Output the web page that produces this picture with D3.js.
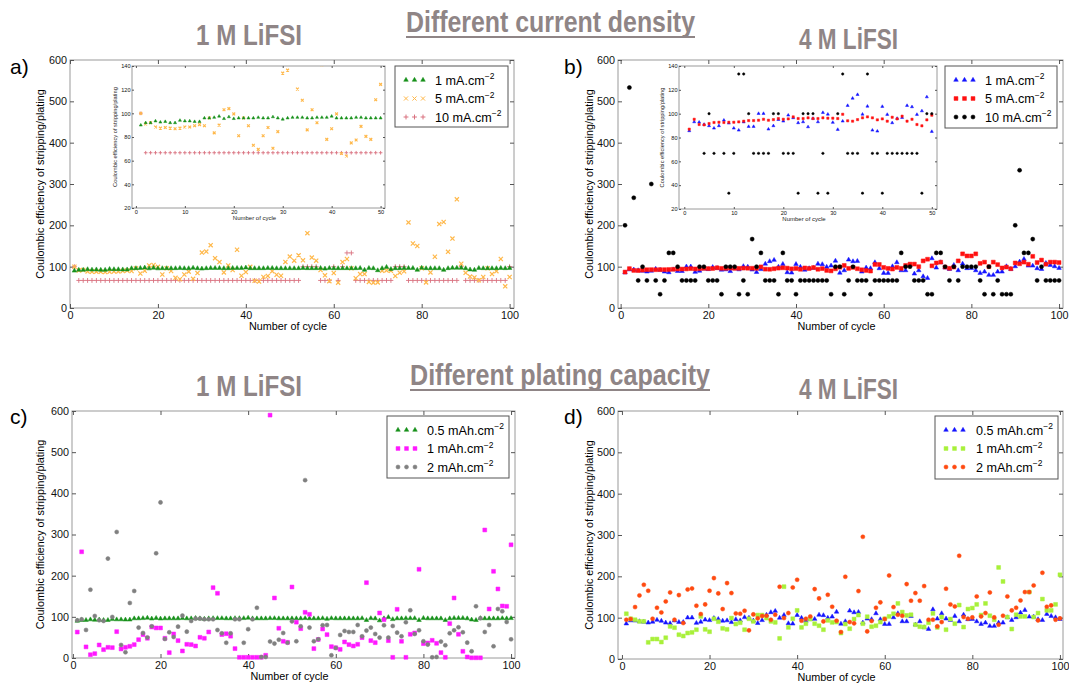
<!DOCTYPE html>
<html><head><meta charset="utf-8">
<script src="https://cdn.jsdelivr.net/npm/d3@7"></script>
<style>
body{margin:0;background:#fff;}
svg{display:block;font-family:"Liberation Sans",Arial,Helvetica,sans-serif;}
</style>
</head><body>
<svg id="fig" width="1069" height="684"></svg>
<script>
// Cycle numbers shared by every series
const cycles = d3.range(1, 101);

// a) 1 M LiFSI, current density
const a_1mA = [90,92,92,93.5,92.5,93,92,92,94,93.5,93.5,93,93,96,96,96.5,97.5,95.5,97,95.5,96,96,96,96,96.5,96,96,97,96,95,96,96.5,96.5,96.5,96,96,96.5,96.5,96.5,97.5,96,96,96,96,96.5,96.5,96,96,96,96,
  96,96,96.5,96,96,96,96.5,95,96.5,96,96,96,96,96,96,96.5,92,96.5,96,91,96,99,94,96,96,96.5,96.5,96.5,92,97,96,96,96,96,92,96,97,97,97,96,93,92,96.5,96,96,96,96,96.5,96,96.5];
const a_5mA = [100,91,92,88.5,87.5,88,87.5,87,87.5,88.5,88.5,89.5,90.5,89.5,96,83.5,90,103,104,99.5,81,96,89.5,73,69.5,81,88,70.5,84.5,134,136.5,152,120.5,111,86,103,92,141,78,87,99.5,66,64,75,77.5,89,80.5,78,111.5,124.5,
  114.5,127.4,115.3,181,122,114.5,92,79,65,84.7,61.3,111,118.5,96,72,82,82,63,61.3,62,90,91,90,77.4,85.5,88.7,207,156,150,96,62,86,124,203,208,136,168,263,107,85,76,74,67,75,96,82,89,118.5,52.5,75];
const a_10mA = [100,66.7,66.7,66.7,66.7,66.7,66.7,66.7,66.7,66.7,66.7,66.7,66.7,66.7,66.7,66.7,66.7,66.7,66.7,66.7,66.7,66.7,66.7,66.7,66.7,66.7,66.7,66.7,66.7,66.7,66.7,66.7,66.7,66.7,66.7,66.7,66.7,66.7,66.7,66.7,66.7,66.7,66.7,66.7,66.7,66.7,66.7,66.7,66.7,66.7,
  66.7,66.7,100,100,100,100,66.7,66.7,66.7,100,66.7,100,133.3,133.3,66.7,66.7,66.7,66.7,66.7,66.7,66.7,66.7,66.7,100,100,100,66.7,66.7,66.7,66.7,66.7,66.7,66.7,66.7,66.7,66.7,66.7,66.7,100,66.7,66.7,66.7,66.7,66.7,66.7,66.7,66.7,66.7,66.7,100];

// b) 4 M LiFSI, current density
const b_1mA = [85.6,93.1,92.8,91,89.8,87.8,89.8,94.5,92,87.8,86.1,93,89.2,89.2,100.1,100.1,87,89.8,95,93.7,98.7,96.5,92.3,93.1,88.9,96,93.1,100.9,99.5,92.6,86.7,93.7,106.8,112.9,116,99.5,106.2,86.1,85.3,106,99.3,92.3,96,96.7,106.8,105.7,99.3,102.3,114,85,
  90.9,116.7,112.7,113.5,87.7,97.4,96,110.3,95.8,84.5,84.5,100.6,110.3,90.9,90.9,103.8,82.9,90.9,76.4,72.4,119.9,97.4,110.3,97.4,94.2,103.8,90.9,107,96,96.6,90.9,84.5,87.7,79.7,79.7,87.7,87.7,100.6,94.2,100.6,111.9,118.3,102.2,102.2,95.8,94,108.7,103.8,100.6,96.6];
const b_5mA = [87,95.3,90.9,90.6,91.7,92.6,92.8,92.6,92.8,92.8,93.1,93.7,94.2,94.2,94.5,95.3,94.5,95,95.9,95.3,95.6,97.3,95.9,95.9,96.5,95.9,95.9,96.5,96.2,96.2,95.9,99.5,94,93.7,95,96.5,97.3,96.5,94.8,95.6,93.7,97,95.6,97.9,93.7,95.3,90.9,89.8,94.8,98.7,
  103,95.8,98.2,95,92.5,90.9,89.3,105.4,105.4,98.2,95.8,94.2,98.2,95.8,103,106.2,106.2,100,114,118,102,109,111,99,96,99,114,131,126,126,131,108,111,100,111,105,97,99,95,109,107,111,106,125,110,116,106,111,111,110];
const b_10mA = [200,533.3,266.7,66.7,100,66.7,300,66.7,33.3,66.7,133.3,133.3,100,66.7,66.7,66.7,66.7,100,100,66.7,66.7,66.7,33.3,100,100,100,33.3,66.7,33.3,166.7,100,133.3,66.7,66.7,66.7,33.3,133.3,66.7,66.7,33.3,66.7,66.7,66.7,66.7,66.7,66.7,66.7,33.3,100,100,
  33.3,66.7,100,66.7,66.7,66.7,33.3,66.7,66.7,66.7,66.7,66.7,66.7,133.3,100,100,66.7,66.7,66.7,33.3,33.3,133.3,133.3,100,66.7,100,66.7,100,100,100,100,66.7,33.3,100,33.3,66.7,33.3,33.3,33.3,200,333.3,133.3,133.3,166.7,66.7,100,66.7,66.7,66.7,66.7];

// c) 1 M LiFSI, plating capacity
const c_05mAh = a_1mA;
const c_1mAh = [63,258,27,8,10.6,31.7,20.3,26,25.2,64,22,26,28.4,32.5,44.6,56.8,47.9,75.4,73,73,48,13,58.4,42.2,17.1,33.3,32.5,29.2,50.3,47.9,63.2,170.9,157.2,57,59,53,22.8,1.7,1.7,1.7,1.7,1.7,1.7,6.6,590,145.8,72.2,40.6,38.1,172.5,
  87,71.3,111,106.2,22.8,45,70.5,56.8,27.6,25,21,39,32.5,29.2,33.3,49.5,183,42.2,37.3,109.4,93.2,42.2,1.7,118.3,40.6,1.7,57.6,60.8,215.5,34.9,36.5,43,35.7,13.1,1.7,83.5,145.8,57.6,16.3,2.5,0.5,0.5,0.5,311,119,210.6,167.7,126.4,125.6,275];
const c_2mAh = [91.6,94,68.1,166,102.1,91.6,90,241.4,99.7,306.2,31.7,13.9,133.7,162.8,73.8,60.8,50,77,254.3,378,46.2,62.4,51,76.2,102.9,64,90,95.6,95.6,94,94,94,68,60,37,60,94,94,37,70,94,122,2.4,2.4,40,35,44.5,60.7,37.2,89,
  40.6,77,432,73.8,40.6,45.4,79.4,80.2,6.6,24.4,56,65.7,63.2,63.2,80.2,52.7,66.5,73.8,58.4,49.5,79.4,49.5,77.8,61.6,52.7,86.7,115.9,58.4,67.3,40.6,32.5,1.7,2.5,39.8,30.9,60,67.3,74.6,62.4,37.3,16.3,125.6,96.4,63.2,80.2,28.4,119.1,113.4,87.5,45.4];

// d) 4 M LiFSI, plating capacity
const d_05mAh = b_1mA;
const d_1mAh = [109.5,97.4,95,91,91,40.3,48.3,48.3,41,51.5,78.9,75.7,58.8,55.6,62.8,64.4,70.9,103,71.7,66,97.4,90.2,74.1,71.7,99,84.6,87.8,70.9,97.4,91,106.3,106.3,99,91,88.6,49.9,175,76.5,97.4,117.6,76.5,85.4,96.6,85.4,80.5,70.9,93.4,88.6,89.4,62.8,
  84.6,73.3,96.6,106.3,85.4,102.3,78.1,80.5,89.4,97.4,103,109.5,134.5,113.6,105.5,107.1,83,78.1,77.3,87.8,110.3,76.5,101.5,70.9,96.6,85.4,130.5,77.3,120.8,123.2,132.1,106.3,134.5,104.7,95,221.5,187.6,101.5,72.5,107.1,103,103,161.9,101.5,111.1,145,117.6,117.6,132.1,203.8];
const d_2mAh = [95,96.6,125.6,153.8,179.6,165.1,97.4,124,112.7,139.3,161.1,95,154.6,87,168.3,170.7,128.9,108.7,132.1,165.1,195.7,158.7,120.8,183.6,159.5,110.3,109.5,116.8,69.3,107.9,98.3,103.9,104.7,95,107.1,174.8,99,111.1,173.1,191.7,92.6,97.4,103,169.1,146.6,91,155.4,126.4,92.6,65.2,
  198.9,89.4,86.2,164.3,295.6,66.8,92,124,137,96.6,202,125.6,107,104.7,181.2,141,159.5,141,176.4,95,95,78.9,89.4,170,132,127.2,249.7,101.5,97.4,100.7,151.4,103,111.1,161,100.7,83,104.7,151.4,117.6,124,141.7,161.9,161.9,178,93.4,208.6,126.4,129.7,95,98.3];

// Tick values and text
const mainYTicks = [0,100,200,300,400,500,600];
const mainXTicks = [0,20,40,60,80,100];
const insetYTicks = [20,40,60,80,100,120,140];
const insetXTicks = [0,10,20,30,40,50];
const yLabel = "Coulombic efficiency of stripping/plating";
const xLabel = "Number of cycle";

const svg = d3.select("#fig");

const TITLE = "#8f8586";
const FRAME = "#9a9a9a";

// marker glyphs
const shapes = {
  tri:   {type: d3.symbolTriangle, fill: true},
  sq:    {type: d3.symbolSquare, fill: true},
  dot:   {type: d3.symbolCircle, fill: true},
  times: {type: d3.symbolTimes, fill: false},
  plus:  {type: d3.symbolPlus, fill: false}
};
const mainSize = {tri: 9, sq: 15, dot: 13, times: 13, plus: 9};
const insetSize = {tri: 4, sq: 5, dot: 4.5, times: 6, plus: 5};

function drawMarks(g, vals, sx, sy, s, sizes, n) {
  const sh = shapes[s.shape];
  const sym = d3.symbol().type(sh.type).size(sizes[s.shape]);
  const data = vals.slice(0, n).map((v, i) => ({x: cycles[i], y: v}));
  g.append("g").selectAll("path").data(data).join("path")
    .attr("transform", d => `translate(${sx(d.x)},${sy(d.y)})`)
    .attr("d", sym)
    .attr("fill", sh.fill ? s.color : "none")
    .attr("stroke", s.color)
    .attr("stroke-width", sh.fill ? 0.5 : (s.shape === "times" ? 1.2 : 0.9));
}

function frameAxes(g, box, sx, sy, xt, yt, fs, tl, opt) {
  // frame
  g.append("rect").attr("x", box.l).attr("y", box.t)
    .attr("width", box.r - box.l).attr("height", box.b - box.t)
    .attr("fill", opt.bg || "none").attr("stroke", FRAME).attr("stroke-width", 1);
  // bottom / top ticks
  g.append("g").attr("transform", `translate(0,${box.b})`)
    .call(d3.axisBottom(sx).tickValues(xt).tickSize(-tl).tickPadding(opt.xpad).tickFormat(d3.format("d")))
    .call(a => { a.select(".domain").remove(); a.selectAll("line").attr("stroke", "#555");
      a.selectAll("text").attr("font-size", fs).attr("fill", "#111"); });
  g.append("g").attr("transform", `translate(0,${box.t})`)
    .call(d3.axisTop(sx).tickValues(xt).tickSize(-tl).tickFormat(""))
    .call(a => { a.select(".domain").remove(); a.selectAll("line").attr("stroke", "#555"); });
  g.append("g").attr("transform", `translate(${box.l},0)`)
    .call(d3.axisLeft(sy).tickValues(yt).tickSize(-tl).tickPadding(opt.ypad).tickFormat(d3.format("d")))
    .call(a => { a.select(".domain").remove(); a.selectAll("line").attr("stroke", "#555");
      a.selectAll("text").attr("font-size", fs).attr("fill", "#111"); });
  g.append("g").attr("transform", `translate(${box.r},0)`)
    .call(d3.axisRight(sy).tickValues(yt).tickSize(-tl).tickFormat(""))
    .call(a => { a.select(".domain").remove(); a.selectAll("line").attr("stroke", "#555"); });
}

function drawPanel(p) {
  const g = svg.append("g");
  const sx = d3.scaleLinear().domain(p.xd).range([p.box.l, p.box.r]);
  const sy = d3.scaleLinear().domain([0, 600]).range([p.box.b, p.box.t]);
  frameAxes(g, p.box, sx, sy, mainXTicks, mainYTicks, 10.8, 4, {xpad: 3, ypad: 3});

  // axis titles
  g.append("text").attr("x", (p.box.l + p.box.r) / 2 - 4).attr("y", p.box.b + 22)
    .attr("text-anchor", "middle").attr("font-size", 10.8).text(xLabel);
  g.append("text").attr("transform", `translate(${p.ylx},${(p.box.t + p.box.b) / 2}) rotate(-90)`)
    .attr("text-anchor", "middle").attr("font-size", 10.8).text(yLabel);

  // panel letter
  g.append("text").attr("x", p.letter[0]).attr("y", p.letter[1]).attr("font-size", 21)
    .text(p.letter[2]);

  // points
  p.order.forEach(k => drawMarks(g, p.series[k].v, sx, sy, p.series[k], mainSize, 100));

  // inset with the first 50 cycles
  if (p.inset) {
    const ib = p.inset;
    const ig = svg.append("g");
    const isx = d3.scaleLinear().domain(ib.xd).range([ib.l, ib.r]);
    const isy = d3.scaleLinear().domain([20, 140]).range([ib.b, ib.t]);
    frameAxes(ig, ib, isx, isy, insetXTicks, insetYTicks, 5.6, 2, {xpad: 2, ypad: 1.5, bg: "#fff"});
    const cid = "clip" + p.letter[2][0];
    ig.append("clipPath").attr("id", cid).append("rect")
      .attr("x", ib.l).attr("y", ib.t).attr("width", ib.r - ib.l).attr("height", ib.b - ib.t);
    const pg = ig.append("g").attr("clip-path", `url(#${cid})`);
    p.order.forEach(k => drawMarks(pg, p.series[k].v, isx, isy, p.series[k], insetSize, 50));
    ig.append("text").attr("x", (ib.l + ib.r) / 2 - 4).attr("y", ib.b + 12)
      .attr("text-anchor", "middle").attr("font-size", 6).attr("fill", "#222").text(xLabel);
    ig.append("text").attr("transform", `translate(${ib.l - 15},${(ib.t + ib.b) / 2}) rotate(-90)`)
      .attr("text-anchor", "middle").attr("font-size", 5.7).attr("fill", "#222").text(yLabel);
  }

  // legend
  const L = p.legend;
  const lg = svg.append("g");
  lg.append("rect").attr("x", L.x).attr("y", L.y).attr("width", L.w).attr("height", L.h)
    .attr("fill", "#fff").attr("stroke", "#555").attr("stroke-width", 1);
  p.series.forEach((s, i) => {
    const yy = L.y + 14 + i * 18.5;
    const sh = shapes[s.shape];
    const sym = d3.symbol().type(sh.type).size(mainSize[s.shape]);
    [0, 8.5, 17].forEach(dx => {
      lg.append("path").attr("transform", `translate(${L.x + 11 + dx},${yy})`).attr("d", sym)
        .attr("fill", sh.fill ? s.color : "none").attr("stroke", s.color)
        .attr("stroke-width", sh.fill ? 0.5 : 1);
    });
    const t = lg.append("text").attr("x", L.x + L.tx).attr("y", yy + 4.5).attr("font-size", 12.6);
    t.append("tspan").text(s.label);
    t.append("tspan").attr("dy", -5.5).attr("font-size", 8.5).text("\u22122");
  });
}

const panels = [
  {box: {l: 70, r: 514, t: 60, b: 308}, xd: [0, 101], ylx: 44, letter: [10, 74, "a)"],
   series: [
     {v: a_1mA, shape: "tri", color: "#17901a", label: "1 mA.cm"},
     {v: a_5mA, shape: "times", color: "#ffb84a", label: "5 mA.cm"},
     {v: a_10mA, shape: "plus", color: "#d9707f", label: "10 mA.cm"}],
   order: [2, 1, 0],
   legend: {x: 395, y: 66, w: 113, h: 61, tx: 40},
   inset: {l: 132, r: 385, t: 66, b: 208, xd: [-0.8, 50.9]}},
  {box: {l: 618, r: 1063, t: 60, b: 308}, xd: [-0.6, 100.9], ylx: 593, letter: [564, 74, "b)"],
   series: [
     {v: b_1mA, shape: "tri", color: "#1414ff", label: "1 mA.cm"},
     {v: b_5mA, shape: "sq", color: "#ff1010", label: "5 mA.cm"},
     {v: b_10mA, shape: "dot", color: "#000000", label: "10 mA.cm"}],
   order: [0, 1, 2],
   legend: {x: 945, y: 66, w: 112, h: 62, tx: 40},
   inset: {l: 679, r: 937, t: 66, b: 209, xd: [-1.07, 51.05]}},
  {box: {l: 72, r: 515, t: 411, b: 658}, xd: [-0.2, 100.9], ylx: 44, letter: [10, 424, "c)"],
   series: [
     {v: c_05mAh, shape: "tri", color: "#17901a", label: "0.5 mAh.cm"},
     {v: c_1mAh, shape: "sq", color: "#ff18ff", label: "1 mAh.cm"},
     {v: c_2mAh, shape: "dot", color: "#808080", label: "2 mAh.cm"}],
   order: [0, 1, 2],
   legend: {x: 387, y: 416, w: 122, h: 62, tx: 40}},
  {box: {l: 618, r: 1063, t: 411, b: 659}, xd: [-0.9, 100.7], ylx: 593, letter: [564, 424, "d)"],
   series: [
     {v: d_05mAh, shape: "tri", color: "#1414ff", label: "0.5 mAh.cm"},
     {v: d_1mAh, shape: "sq", color: "#a8f03a", label: "1 mAh.cm"},
     {v: d_2mAh, shape: "dot", color: "#ff4a10", label: "2 mAh.cm"}],
   order: [0, 1, 2],
   legend: {x: 935, y: 416, w: 123, h: 63, tx: 41}}
];

panels.forEach(drawPanel);

// headings
function heading(txt, x0, x1, base, underline) {
  svg.append("text").attr("x", x0).attr("y", base).attr("font-size", 29).attr("font-weight", "bold")
    .attr("fill", TITLE).attr("textLength", x1 - x0).attr("lengthAdjust", "spacingAndGlyphs").text(txt);
  if (underline) {
    svg.append("line").attr("x1", x0).attr("x2", x1).attr("y1", base + 5).attr("y2", base + 5)
      .attr("stroke", TITLE).attr("stroke-width", 2.2);
  }
}
heading("1 M LiFSI", 196, 302, 45, false);
heading("Different current density", 406, 695, 32, true);
heading("4 M LiFSI", 799, 898, 49, false);
heading("1 M LiFSI", 196, 302, 396, false);
heading("Different plating capacity", 410, 710, 385, true);
heading("4 M LiFSI", 799, 898, 399, false);
</script>
</body></html>
